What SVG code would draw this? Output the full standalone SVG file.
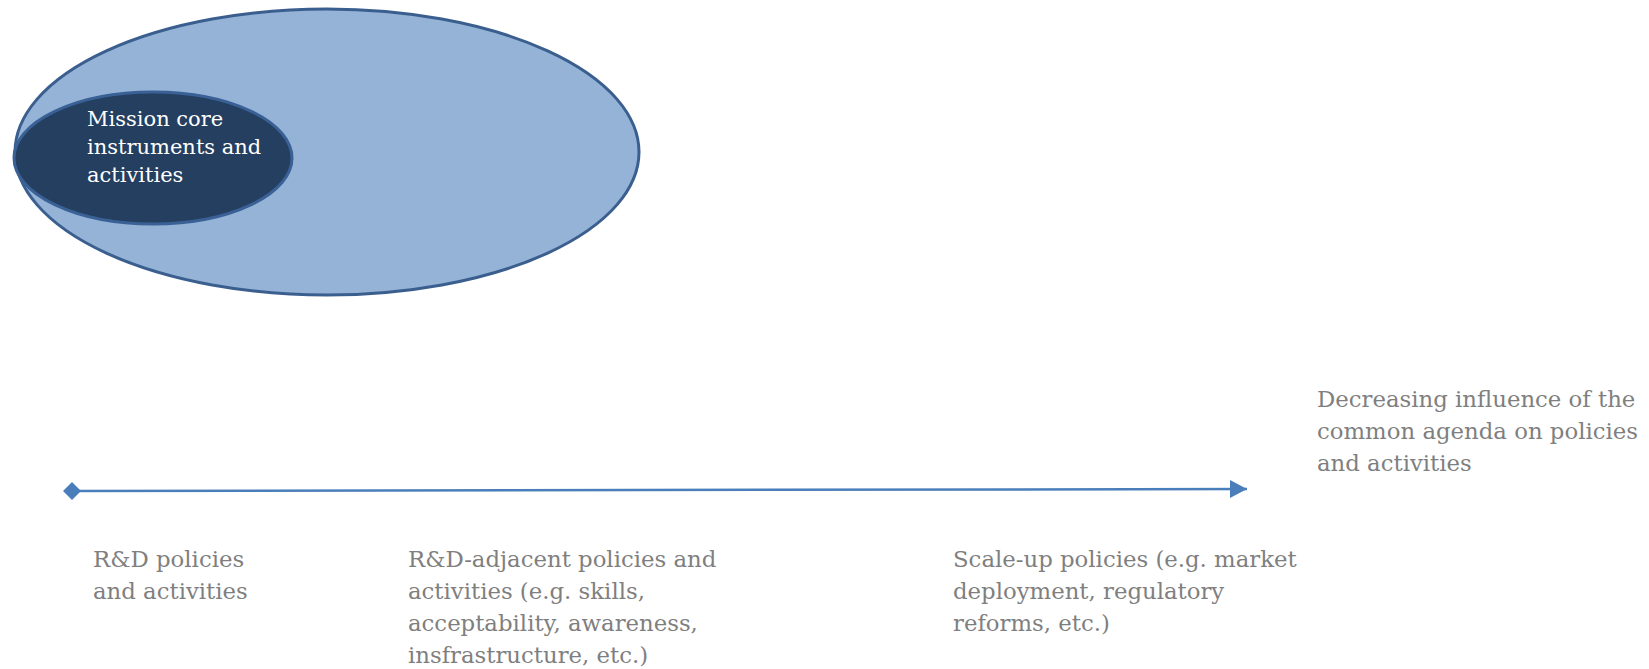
<svg xmlns="http://www.w3.org/2000/svg" width="1649" height="669" viewBox="0 0 1649 669">
<defs>
<style>
.outer{fill:#95B3D7;stroke:#3A5F8F;stroke-width:3}
.inner{fill:#243F60;stroke:#3A6196;stroke-width:3}
.wt{font-family:"DejaVu Serif","Liberation Serif",serif;font-size:21px;fill:#FFFFFF}
.gt{font-family:"DejaVu Serif","Liberation Serif",serif;font-size:22.8px;fill:#7F7F7F}
.axis{stroke:#4A7EBB;stroke-width:2.5;fill:none}
</style>
<marker id="arrowEnd" markerUnits="userSpaceOnUse" markerWidth="20" markerHeight="20" refX="17" refY="9" orient="auto">
<path d="M0,0 L17,9 L0,18 Z" fill="#4A7EBB"/>
</marker>
<marker id="diamondStart" markerUnits="userSpaceOnUse" markerWidth="20" markerHeight="20" refX="9" refY="9" orient="auto">
<path d="M0,9 L9,0 L18,9 L9,18 Z" fill="#4A7EBB"/>
</marker>
</defs>
<rect width="1649" height="669" fill="#FFFFFF"/>
<g id="outer-ellipse">
<ellipse class="outer" cx="327" cy="152" rx="312" ry="143"/>
</g>
<g id="mission-core">
<ellipse class="inner" cx="153" cy="158" rx="139" ry="66"/>
<text class="wt"><tspan x="87" y="126">Mission core</tspan><tspan x="87" y="154">instruments and</tspan><tspan x="87" y="182">activities</tspan></text>
</g>
<g id="connectors">
<line class="axis" x1="72" y1="491" x2="1247" y2="489" marker-start="url(#diamondStart)" marker-end="url(#arrowEnd)"/>
</g>
<g id="rd-policies">
<text class="gt"><tspan x="93" y="567">R&amp;D policies</tspan><tspan x="93" y="599">and activities</tspan></text>
</g>
<g id="rd-adjacent">
<text class="gt"><tspan x="408" y="567">R&amp;D-adjacent policies and</tspan><tspan x="408" y="599">activities (e.g. skills,</tspan><tspan x="408" y="631">acceptability, awareness,</tspan><tspan x="408" y="663">insfrastructure, etc.)</tspan></text>
</g>
<g id="scale-up">
<text class="gt"><tspan x="953" y="567">Scale-up policies (e.g. market</tspan><tspan x="953" y="599">deployment, regulatory</tspan><tspan x="953" y="631">reforms, etc.)</tspan></text>
</g>
<g id="decreasing">
<text class="gt"><tspan x="1317" y="407">Decreasing influence of the</tspan><tspan x="1317" y="439">common agenda on policies</tspan><tspan x="1317" y="471">and activities</tspan></text>
</g>
</svg>
